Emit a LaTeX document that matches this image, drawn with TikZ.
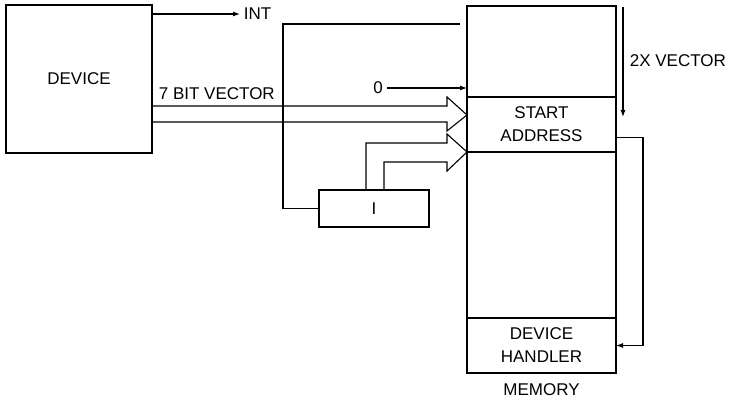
\documentclass[tikz,border=0pt]{standalone}
\usepackage{fontspec}
\setmainfont{Liberation Sans}
\usetikzlibrary{arrows.meta,positioning}

\begin{document}
\begin{tikzpicture}[x=1pt, y=1pt, line width=1.1pt, font=\fontsize{17}{23}\selectfont,
  box/.style={draw, align=center, inner sep=0pt, outer sep=0pt},
  cell/.style={box, minimum width=149pt},
  arr/.style={-{Latex[length=7pt,width=5pt]}}]
\useasboundingbox (0,0) rectangle (729,403);
\node[box, minimum width=146pt, minimum height=148pt] (dev) at (79,324) {DEVICE};
\node[cell, minimum height=91pt] (memtop) at (541.5,351.5) {};
\node[cell, minimum height=55pt, below=0pt of memtop] (start) {START\\ADDRESS};
\node[cell, minimum height=166pt, below=0pt of start] (mid) {};
\node[cell, minimum height=55pt, below=0pt of mid] (handler) {DEVICE\\HANDLER};
\node (memlbl) at (541.5,13) {MEMORY};
\node[box, minimum width=110pt, minimum height=37pt] (inc) at (374,194.5) {I};
\node[anchor=west] (int) at (240,389) {INT};
\node (zero) at (378,315) {0};
\node[anchor=south west] (vec) at (155,299) {7 BIT VECTOR};
\node[anchor=west] (twox) at (626,342) {2X VECTOR};
\coordinate (tap) at (460,379);
\coordinate (top2x) at (623,396);

% interrupt and constant bit
\draw[arr] (dev.east |- int) -- (int.west);
\draw[arr] (zero.east) -- (zero -| memtop.west);
% feedback from memory into the I register
\draw (tap) -- (283,379) |- (inc.west);
% 7 bit vector bus
\draw (dev.east |- 0,297) -- (447,297) -- ++(0,9) -- (467,288) -- (447,272) -- ++(0,9) -- (dev.east |- 0,281);
% bus from I
\draw ([xshift=-8pt]inc.north) |- (447,260) -- ++(0,9) -- (start.south west) -- (447,232) -- ++(0,9) -| ([xshift=10pt]inc.north);
% 2X vector and jump to handler
\draw[arr] (top2x) -- (623,286);
\draw[arr] ([yshift=-13pt]start.east) -- ++(27,0) |- (handler.east);
\end{tikzpicture}
\end{document}
